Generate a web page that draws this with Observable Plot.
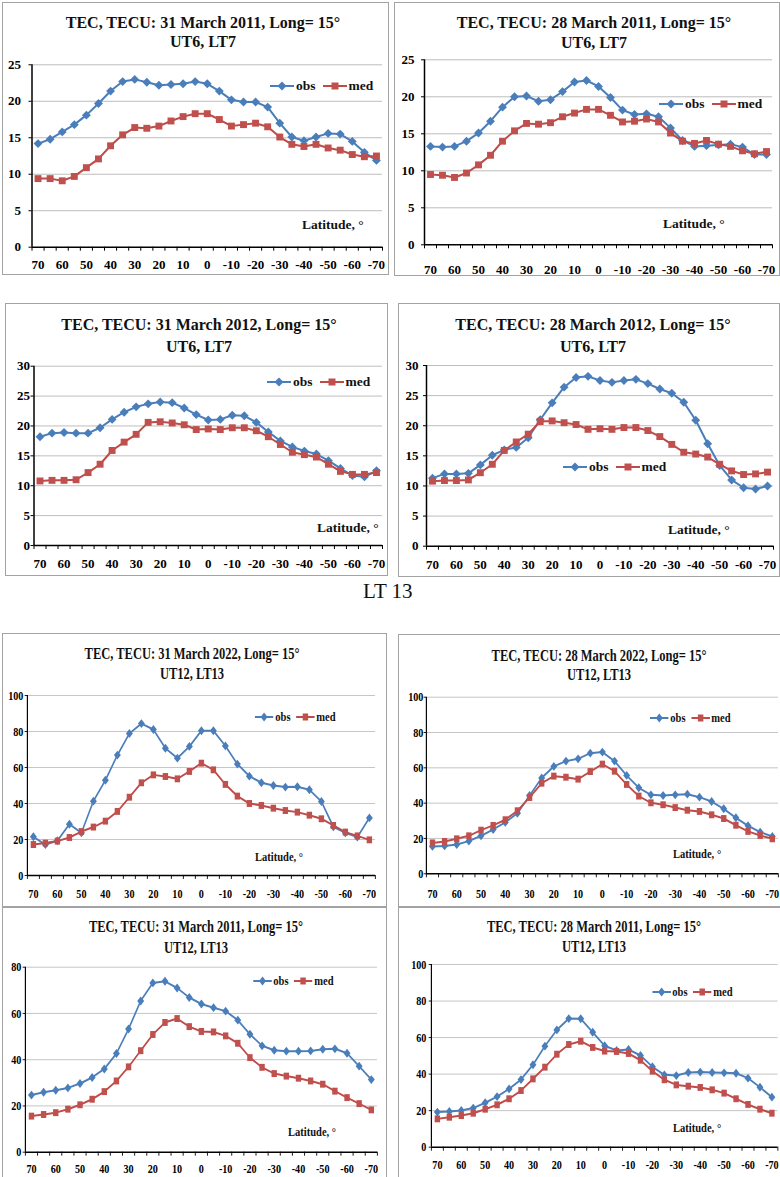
<!DOCTYPE html>
<html><head><meta charset="utf-8">
<script src="https://cdn.jsdelivr.net/npm/d3@7"></script>
<script src="https://cdn.jsdelivr.net/npm/@observablehq/plot@0.6"></script>
<style>
html,body{margin:0;padding:0;background:#fff;}
#page{position:relative;width:780px;height:1177px;overflow:hidden;background:#fff;font-family:"Liberation Serif","Times New Roman",serif;color:#111;}
.box{position:absolute;border:1.5px solid #a3a3a3;box-sizing:border-box;}
.panel{position:absolute;transform-origin:0 0;}
.panel > svg{position:absolute;left:0;top:0;overflow:visible;}
.t{position:absolute;white-space:nowrap;font-weight:bold;}
.title{font-size:16px;line-height:20px;text-align:center;width:400px;}
.lat{font-size:13.5px;line-height:16px;}
.leg{display:flex;align-items:center;font-size:13.5px;line-height:16px;}
.leg svg{display:block;flex:none;}
.leg span{margin:0 7px 0 2px;}
#lt13{position:absolute;left:363px;top:578px;font-size:21px;line-height:26px;font-weight:normal;}
</style>
</head><body><div id="page"><div id="lt13">LT 13</div></div>
<script>
// ---------- categories & tick labels ----------
const latitudes = [70,65,60,55,50,45,40,35,30,25,20,15,10,5,0,-5,-10,-15,-20,-25,-30,-35,-40,-45,-50,-55,-60,-65,-70];
const latTickLabels = [70,60,50,40,30,20,10,0,-10,-20,-30,-40,-50,-60,-70];
const yTicks25 = [0,5,10,15,20,25];
const yTicks30 = [0,5,10,15,20,25,30];
const yTicks80 = [0,20,40,60,80];
const yTicks100 = [0,20,40,60,80,100];
const seriesNames = ["obs","med"];

// ---------- series values (TECU) ----------
const obs_31Mar2011_LT7 = [14.2,14.8,15.8,16.8,18.1,19.7,21.4,22.7,23.0,22.6,22.2,22.3,22.4,22.7,22.4,21.4,20.2,19.9,19.9,19.2,17.0,15.1,14.6,15.1,15.6,15.5,14.5,13.0,11.9];
const med_31Mar2011_LT7 = [9.4,9.4,9.1,9.7,10.9,12.1,13.9,15.4,16.4,16.3,16.6,17.3,17.9,18.3,18.3,17.5,16.6,16.8,17.0,16.5,15.1,14.1,13.8,14.1,13.6,13.3,12.7,12.4,12.5];
const obs_28Mar2011_LT7 = [13.3,13.2,13.3,14.0,15.1,16.7,18.6,20.0,20.1,19.4,19.6,20.7,22.0,22.2,21.4,19.9,18.2,17.6,17.7,17.3,15.8,14.1,13.3,13.4,13.5,13.6,13.2,12.2,12.2];
const med_28Mar2011_LT7 = [9.5,9.4,9.1,9.7,10.8,12.1,14.0,15.4,16.4,16.3,16.5,17.3,17.8,18.3,18.3,17.5,16.6,16.7,17.0,16.6,15.1,14.0,13.7,14.1,13.6,13.3,12.7,12.3,12.6];
const obs_31Mar2012_LT7 = [18.2,18.8,18.9,18.8,18.8,19.7,21.1,22.3,23.2,23.7,24.0,23.9,23.0,21.9,21.0,21.1,21.8,21.7,20.6,19.0,17.5,16.5,15.8,15.3,14.2,12.9,11.7,11.5,12.5];
const med_31Mar2012_LT7 = [10.8,10.9,10.9,11.0,12.2,13.6,15.9,17.3,18.6,20.6,20.7,20.5,20.2,19.4,19.5,19.4,19.7,19.7,19.2,18.2,16.9,15.6,15.2,14.8,13.6,12.4,11.9,11.9,12.2];
const obs_28Mar2012_LT7 = [11.3,12.0,12.0,12.1,13.5,15.1,16.0,16.4,18.0,21.0,23.8,26.4,28.0,28.2,27.5,27.2,27.5,27.7,27.0,26.1,25.4,23.9,20.9,17.0,13.4,11.0,9.7,9.5,10.0];
const med_28Mar2012_LT7 = [10.8,10.9,10.9,11.0,12.2,13.6,15.9,17.3,18.6,20.7,20.8,20.5,20.2,19.4,19.5,19.4,19.7,19.7,19.2,18.2,16.9,15.6,15.3,14.8,13.6,12.5,11.9,12.0,12.3];
const obs_31Mar2022_LT13 = [21.5,17.2,19.3,28.5,23.7,41.3,52.9,66.9,78.9,84.4,81.1,70.7,65.2,71.7,80.4,80.4,72.0,61.9,55.2,51.5,50.0,49.1,49.3,47.6,41.1,27.0,23.7,21.3,32.0];
const med_31Mar2022_LT13 = [17.2,18.0,19.1,21.1,24.4,26.9,30.2,35.6,43.5,51.5,55.9,55.0,53.7,57.8,62.4,58.7,50.6,44.1,40.0,38.9,37.4,36.1,35.2,33.5,31.5,27.8,24.1,22.0,19.8];
const obs_28Mar2022_LT13 = [15.5,15.8,16.6,18.5,21.5,25.1,29.1,34.3,44.3,54.3,60.8,63.8,65.1,68.3,68.9,63.8,55.7,48.7,44.7,44.3,44.7,45.1,43.4,40.9,36.8,31.7,27.2,23.6,21.1];
const med_28Mar2022_LT13 = [17.5,18.3,19.8,21.5,24.7,27.4,30.6,35.7,43.2,51.3,55.3,54.7,53.6,57.9,62.1,58.1,50.6,44.0,40.2,39.1,37.5,36.0,35.3,33.4,31.3,27.5,24.0,21.7,19.8];
const obs_31Mar2011_LT13 = [24.7,25.9,26.8,27.8,29.7,32.3,36.0,42.7,53.3,65.4,73.2,73.9,71.0,66.9,64.1,62.5,61.0,57.1,51.0,46.0,44.1,43.7,43.7,43.8,44.5,44.7,42.8,37.2,31.4];
const med_31Mar2011_LT13 = [15.6,16.3,17.1,18.6,20.5,22.9,26.2,30.8,36.9,43.9,50.9,56.1,57.8,54.3,52.2,52.0,50.3,47.1,40.9,36.7,34.0,32.9,32.0,30.8,29.4,26.4,23.6,21.0,18.3];
const obs_28Mar2011_LT13 = [19.2,19.5,20.1,21.4,24.3,27.7,31.9,37.0,45.1,55.3,64.2,70.4,70.3,62.9,55.5,52.9,53.5,50.2,44.0,39.6,39.2,40.9,41.1,40.9,40.7,40.5,37.8,32.8,27.4];
const med_28Mar2011_LT13 = [15.5,16.4,17.3,18.6,20.8,23.2,26.5,31.0,37.4,43.8,50.9,56.2,58.0,54.6,52.6,52.4,51.3,47.6,41.6,36.9,34.1,33.4,32.7,31.4,29.6,26.5,23.4,20.8,18.6];

// ---------- titles ----------
const titles = [
  ["TEC, TECU: 31 March 2011, Long= 15°","UT6, LT7"],
  ["TEC, TECU: 28 March 2011, Long= 15°","UT6, LT7"],
  ["TEC, TECU: 31 March 2012, Long= 15°","UT6, LT7"],
  ["TEC, TECU: 28 March 2012, Long= 15°","UT6, LT7"],
  ["TEC, TECU: 31 March 2022, Long= 15°","UT12, LT13"],
  ["TEC, TECU: 28 March 2022, Long= 15°","UT12, LT13"],
  ["TEC, TECU: 31 March 2011, Long= 15°","UT12, LT13"],
  ["TEC, TECU: 28 March 2011, Long= 15°","UT12, LT13"]
];
const xAxisTitle = "Latitude, °";

const OBS = "#4a7ebb", MED = "#be4b48";
const FONT = '"Liberation Serif","Times New Roman",serif';

// ---------- panel layout (page px) ----------
const panels = [
  {box:[2,2,389,275], k:1, x0:31.5, x1:382, yTop:64.3, yBot:246.7, yTicks:yTicks25, yGap:11, xGap:18, t:titles[0], cx:203, ty:[23,42], leg:[270,86], lat:[302,225], obs:obs_31Mar2011_LT7, med:med_31Mar2011_LT7},
  {box:[394,2,780,276], k:1, x0:424, x1:772, yTop:59.3, yBot:244.3, yTicks:yTicks25, yGap:10, xGap:25, t:titles[1], cx:594, ty:[23,43], leg:[659,104], lat:[663,224], obs:obs_28Mar2011_LT7, med:med_28Mar2011_LT7},
  {box:[5,303,388,576], k:1, x0:33.5, x1:382, yTop:365.7, yBot:545, yTicks:yTicks30, yGap:4, xGap:18, t:titles[2], cx:199, ty:[325,347], leg:[267,382], lat:[317,528], obs:obs_31Mar2012_LT7, med:med_31Mar2012_LT7},
  {box:[398,303,780,577], k:1, x0:426, x1:773, yTop:365, yBot:545.7, yTicks:yTicks30, yGap:8, xGap:18.5, t:titles[3], cx:593, ty:[325,347], leg:[563,467], lat:[668,530], obs:obs_28Mar2012_LT7, med:med_28Mar2012_LT7},
  {box:[2,633,387,907], k:0.78, x0:27, x1:375, yTop:695, yBot:875, yTicks:yTicks100, yGap:4, xGap:18, t:titles[4], cx:192, ty:[654,674], leg:[255,717], lat:[255,857], obs:obs_31Mar2022_LT13, med:med_31Mar2022_LT13},
  {box:[398,634,782,907], k:0.78, x0:426, x1:778, yTop:696.7, yBot:873.3, yTicks:yTicks100, yGap:3, xGap:20, t:titles[5], cx:599, ty:[656,675], leg:[650,718], lat:[673,854], obs:obs_28Mar2022_LT13, med:med_28Mar2022_LT13},
  {box:[2,907,387,1182], k:0.78, x0:25, x1:377, yTop:966.7, yBot:1151.7, yTicks:yTicks80, yGap:4, xGap:16.5, t:titles[6], cx:196, ty:[927,948], leg:[253,981], lat:[288,1132], obs:obs_31Mar2011_LT13, med:med_31Mar2011_LT13},
  {box:[398,907,790,1182], k:0.78, x0:431, x1:777.5, yTop:964, yBot:1146.7, yTicks:yTicks100, yGap:5, xGap:18, t:titles[7], cx:594, ty:[927,947], leg:[652,992], lat:[673,1128], obs:obs_28Mar2011_LT13, med:med_28Mar2011_LT13}
];

const page = document.getElementById("page");
const half = (latitudes[0] - latitudes[1]) / 2;
const xDomain = [latitudes[0] + half, latitudes[latitudes.length - 1] - half];
const edges = latitudes.map(d => d + half).concat([latitudes[latitudes.length - 1] - half]);

function legendHTML() {
  const dia = `<svg width="24" height="12"><line x1="0" y1="6" x2="24" y2="6" stroke="${OBS}" stroke-width="2"/><path d="M12,1.5L16.5,6L12,10.5L7.5,6Z" fill="${OBS}"/></svg>`;
  const sq = `<svg width="24" height="12"><line x1="0" y1="6" x2="24" y2="6" stroke="${MED}" stroke-width="2"/><rect x="8.5" y="2.5" width="7" height="7" fill="#c0504d"/></svg>`;
  return `${dia}<span>${seriesNames[0]}</span>${sq}<span>${seriesNames[1]}</span>`;
}

for (const p of panels) {
  const [L, T, R, B] = p.box;
  const k = p.k;
  const W = (R - L) / k, H = B - T;
  const lx = x => (x - L) / k, ly = y => y - T;

  const border = document.createElement("div");
  border.className = "box";
  Object.assign(border.style, {left: L + "px", top: T + "px", width: Math.min(R, 781) - L + "px", height: Math.min(B, 1178) - T + "px"});
  page.appendChild(border);

  const panel = document.createElement("div");
  panel.className = "panel";
  Object.assign(panel.style, {left: L + "px", top: T + "px", width: W + "px", height: H + "px", transform: `scaleX(${k})`});
  page.appendChild(panel);

  const obsData = latitudes.map((lat, i) => ({lat, v: p.obs[i]}));
  const medData = latitudes.map((lat, i) => ({lat, v: p.med[i]}));
  const ymax = p.yTicks[p.yTicks.length - 1];

  const chart = Plot.plot({
    width: W, height: H,
    marginLeft: lx(p.x0), marginRight: W - lx(p.x1),
    marginTop: ly(p.yTop), marginBottom: H - ly(p.yBot),
    x: {type: "linear", domain: xDomain},
    y: {domain: [0, ymax]},
    style: {fontFamily: FONT, fontSize: "13px", fontWeight: "bold", background: "transparent", color: "#000", overflow: "visible"},
    marks: [
      Plot.ruleY(p.yTicks.filter(d => d > 0), {stroke: "#bdbdbd", strokeWidth: 1}),
      Plot.line(obsData, {x: "lat", y: "v", stroke: OBS, strokeWidth: 2}),
      Plot.dot(obsData, {x: "lat", y: "v", symbol: "diamond2", r: 4, fill: OBS, stroke: "none"}),
      Plot.line(medData, {x: "lat", y: "v", stroke: MED, strokeWidth: 2}),
      Plot.dot(medData, {x: "lat", y: "v", symbol: "square", r: 3.9, fill: "#c0504d", stroke: "none"}),
      Plot.axisY(p.yTicks, {tickSize: 3, tickPadding: Math.max(0, p.yGap / k - 3), tickFormat: d => String(d), label: null, stroke: "#000", fill: "#000"}),
      Plot.axisX(latTickLabels, {tickSize: 0, tickPadding: p.xGap - 5, tickFormat: d => String(d), label: null, fill: "#000"}),
      Plot.axisX(edges, {tickSize: 4, tickFormat: () => "", label: null, stroke: "#000"}),
      Plot.ruleX([xDomain[0]], {stroke: "#000", strokeWidth: 1.5}),
      Plot.ruleY([0], {stroke: "#000", strokeWidth: 1.5})
    ]
  });
  panel.appendChild(chart);

  p.t.forEach((line, i) => {
    const d = document.createElement("div");
    d.className = "t title";
    d.textContent = line;
    Object.assign(d.style, {left: lx(p.cx) - 200 + "px", top: ly(p.ty[i]) - 10 + "px"});
    panel.appendChild(d);
  });

  const lg = document.createElement("div");
  lg.className = "t leg";
  lg.innerHTML = legendHTML();
  Object.assign(lg.style, {left: lx(p.leg[0]) + "px", top: ly(p.leg[1]) - 8 + "px"});
  panel.appendChild(lg);

  const la = document.createElement("div");
  la.className = "t lat";
  la.textContent = xAxisTitle;
  Object.assign(la.style, {left: lx(p.lat[0]) + "px", top: ly(p.lat[1]) - 8 + "px"});
  panel.appendChild(la);
}
</script>
</body></html>
